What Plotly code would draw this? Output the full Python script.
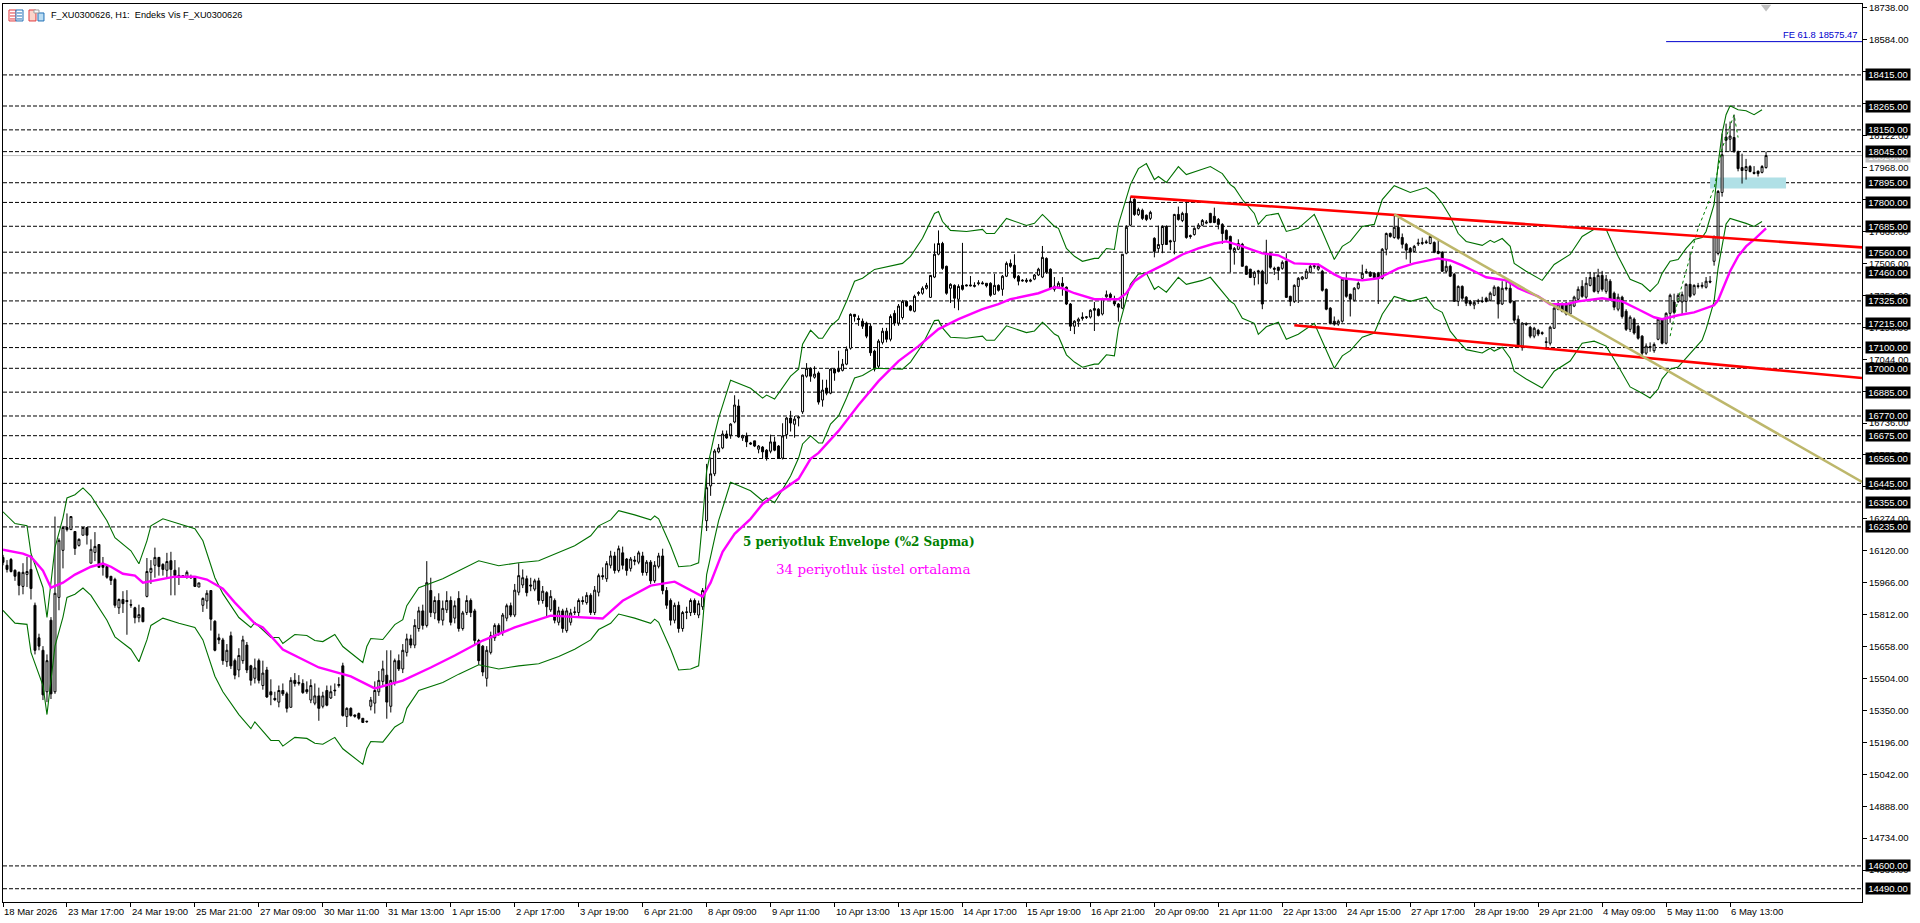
import plotly.graph_objects as go

# hourly candles, one line per 16 bars (one line per time label)
opens = [
    16088, 16050, 16078, 16026, 16016, 15948, 16006, 16030, 15857, 15700, 15640, 15440, 15785, 15440, 15895, 16122,
    16232, 16222, 16213, 16146, 16195, 16232, 16060, 16112, 16150, 16060, 16044, 15997, 15982, 15845, 15885, 15880,
    15860, 15845, 15797, 15845, 15900, 16016, 16050, 16088, 16054, 16026, 16072, 16026, 16001, 16000, 15992, 15995,
    15992, 15945, 15857, 15878, 15928, 15780, 15700, 15690, 15585, 15710, 15590, 15545, 15590, 15665, 15565, 15505,
    15590, 15470, 15545, 15440, 15408, 15390, 15446, 15430, 15365, 15495, 15480, 15480, 15450, 15400, 15385, 15420,
    15370, 15446, 15410, 15448, 15470, 15565, 15320, 15360, 15328, 15335, 15312, 15298, 15370, 15385, 15440, 15490,
    15520, 15370, 15485, 15590, 15550, 15630, 15695, 15665, 15745, 15830, 15760, 15928, 15820, 15880, 15785, 15835,
    15880, 15795, 15890, 15745, 15822, 15880, 15830, 15687, 15660, 15505, 15630, 15700, 15760, 15725, 15795, 15855,
    15810, 15920, 15955, 15985, 15955, 15935, 15975, 15880, 15918, 15835, 15880, 15775, 15830, 15735, 15775, 15822,
    15822, 15880, 15870, 15905, 15822, 15920, 16000, 15985, 16050, 16095, 16025, 16110, 16080, 16035, 16075, 16065,
    16095, 16015, 16065, 15975, 16045, 16095, 15928, 15880, 15785, 15857, 15745, 15822, 15822, 15880, 15810, 15850,
    16265, 16433, 16491, 16597, 16616, 16683, 16678, 16741, 16818, 16664, 16674, 16640, 16650, 16610, 16620, 16605,
    16600, 16645, 16625, 16567, 16680, 16760, 16730, 16760, 16790, 16962, 17000, 16957, 16977, 16847, 16905, 16880,
    16996, 16996, 16990, 17020, 17097, 17260, 17240, 17227, 17218, 17203, 17083, 17010, 17125, 17179, 17140, 17265,
    17218, 17245, 17323, 17300, 17275, 17360, 17362, 17386, 17342, 17440, 17550, 17602, 17492, 17386, 17400, 17333,
    17400, 17402, 17402, 17400, 17408, 17412, 17410, 17410, 17357, 17400, 17381, 17444, 17506, 17497, 17444, 17425,
    17425, 17420, 17430, 17450, 17440, 17530, 17478, 17381, 17391, 17410, 17391, 17310, 17203, 17227, 17240, 17245,
    17247, 17288, 17285, 17262, 17345, 17357, 17323, 17310, 17290, 17555, 17690, 17815, 17742, 17762, 17738, 17723,
    17627, 17578, 17597, 17684, 17615, 17612, 17742, 17713, 17747, 17640, 17645, 17675, 17690, 17700, 17747, 17733,
    17718, 17694, 17665, 17636, 17564, 17574, 17598, 17492, 17478, 17438, 17470, 17468, 17410, 17554, 17482, 17487,
    17482, 17516, 17347, 17323, 17395, 17430, 17434, 17463, 17490, 17478, 17468, 17381, 17290, 17227, 17213, 17227,
    17430, 17357, 17328, 17386, 17434, 17462, 17463, 17458, 17458, 17434, 17574, 17650, 17631, 17680, 17631, 17598,
    17578, 17564, 17600, 17602, 17610, 17602, 17607, 17564, 17559, 17468, 17492, 17453, 17323, 17395, 17343, 17323,
    17305, 17322, 17325, 17338, 17328, 17352, 17391, 17310, 17388, 17386, 17323, 17237, 17107, 17215, 17198, 17155,
    17183, 17172, 17128, 17121, 17193, 17285, 17310, 17314, 17262, 17300, 17333, 17395, 17343, 17400, 17438, 17371,
    17448, 17371, 17420, 17362, 17285, 17343, 17275, 17188, 17237, 17203, 17155, 17073, 17105, 17085, 17140, 17237,
    17121, 17265, 17320, 17323, 17320, 17323, 17405, 17357, 17398, 17395, 17391, 17420, 17516, 17554, 17848, 18115,
    18105, 18113, 18045, 17968, 17954, 17973, 17945, 17950, 17945, 17968,
]
highs = [
    16100, 16075, 16085, 16030, 16020, 16060, 16090, 16100, 15870, 15720, 15660, 15620, 15800, 16285, 16180, 16240,
    16300, 16285, 16213, 16180, 16232, 16232, 16175, 16210, 16150, 16090, 16050, 15997, 15990, 15890, 15925, 15930,
    15885, 15850, 15860, 15845, 16085, 16075, 16135, 16090, 16060, 16110, 16115, 16075, 16040, 16000, 16025, 16005,
    15997, 15965, 15895, 15930, 15928, 15785, 15720, 15700, 15670, 15730, 15600, 15650, 15710, 15680, 15570, 15600,
    15600, 15590, 15560, 15500, 15440, 15470, 15480, 15440, 15510, 15530, 15520, 15500, 15490, 15500, 15480, 15460,
    15440, 15470, 15470, 15480, 15510, 15580, 15365, 15365, 15330, 15340, 15312, 15300, 15415, 15490, 15540, 15590,
    15640, 15640, 15600, 15620, 15670, 15720, 15715, 15790, 15850, 15860, 16070, 15990, 15900, 15915, 15880, 15925,
    15900, 15880, 15925, 15830, 15905, 15890, 15840, 15695, 15665, 15660, 15730, 15770, 15770, 15820, 15865, 15870,
    15960, 16060, 16030, 16000, 15990, 15985, 15990, 15950, 15925, 15930, 15890, 15850, 15840, 15845, 15840, 15850,
    15890, 15900, 15920, 15915, 15950, 16010, 16040, 16070, 16120, 16115, 16145, 16140, 16085, 16090, 16095, 16120,
    16115, 16075, 16075, 16070, 16110, 16130, 15945, 15890, 15870, 15875, 15830, 15850, 15890, 15890, 15880, 15940,
    16539, 16570, 16610, 16635, 16700, 16700, 16735, 16870, 16850, 16680, 16690, 16645, 16650, 16630, 16625, 16610,
    16680, 16670, 16630, 16735, 16765, 16795, 16770, 16770, 16970, 17025, 17005, 17010, 16985, 16945, 16945, 17000,
    17000, 17085, 17045, 17105, 17265, 17262, 17255, 17240, 17225, 17215, 17090, 17140, 17195, 17195, 17260, 17280,
    17310, 17330, 17325, 17305, 17355, 17372, 17395, 17412, 17450, 17602, 17665, 17610, 17495, 17410, 17405, 17405,
    17605, 17405, 17445, 17415, 17425, 17420, 17410, 17415, 17455, 17405, 17450, 17515, 17525, 17550, 17450, 17430,
    17435, 17432, 17455, 17485, 17590, 17535, 17482, 17440, 17420, 17440, 17395, 17315, 17232, 17245, 17270, 17252,
    17285, 17320, 17290, 17340, 17375, 17365, 17350, 17315, 17550, 17690, 17828, 17820, 17775, 17770, 17742, 17760,
    17632, 17688, 17690, 17690, 17620, 17745, 17780, 17755, 17805, 17645, 17680, 17700, 17720, 17715, 17750, 17775,
    17725, 17700, 17670, 17640, 17585, 17622, 17605, 17495, 17480, 17470, 17475, 17475, 17620, 17558, 17490, 17490,
    17520, 17555, 17350, 17405, 17440, 17445, 17480, 17500, 17505, 17505, 17475, 17385, 17295, 17250, 17235, 17440,
    17465, 17360, 17392, 17418, 17500, 17480, 17468, 17462, 17465, 17580, 17655, 17655, 17742, 17725, 17650, 17605,
    17585, 17595, 17625, 17630, 17620, 17645, 17612, 17622, 17565, 17525, 17500, 17460, 17400, 17400, 17348, 17330,
    17325, 17335, 17345, 17345, 17370, 17400, 17395, 17420, 17425, 17420, 17325, 17255, 17222, 17222, 17205, 17200,
    17190, 17178, 17150, 17205, 17295, 17320, 17318, 17320, 17315, 17350, 17395, 17425, 17440, 17465, 17460, 17480,
    17470, 17450, 17430, 17370, 17360, 17350, 17285, 17255, 17245, 17210, 17160, 17120, 17125, 17125, 17240, 17240,
    17270, 17360, 17360, 17362, 17370, 17410, 17555, 17405, 17412, 17415, 17440, 17445, 17640, 17860, 18132, 18180,
    18190, 18223, 18050, 18035, 18010, 17980, 17975, 17955, 17980, 18045,
]
lows = [
    16050, 16015, 16015, 15975, 15905, 15910, 15945, 15885, 15620, 15640, 15400, 15390, 15405, 15430, 15833, 16035,
    16213, 16222, 16100, 16140, 16195, 16150, 16060, 16070, 16040, 16000, 15985, 15955, 15845, 15815, 15820, 15715,
    15845, 15770, 15775, 15775, 15895, 15960, 15990, 16000, 16000, 15985, 15905, 15905, 15955, 15990, 15985, 15985,
    15945, 15945, 15825, 15840, 15735, 15635, 15670, 15570, 15560, 15550, 15500, 15510, 15575, 15530, 15470, 15480,
    15480, 15450, 15410, 15375, 15395, 15365, 15420, 15340, 15365, 15465, 15470, 15430, 15430, 15385, 15375, 15300,
    15360, 15370, 15405, 15420, 15460, 15320, 15270, 15320, 15315, 15305, 15290, 15290, 15350, 15335, 15420, 15470,
    15310, 15340, 15470, 15540, 15530, 15610, 15650, 15650, 15730, 15740, 15750, 15800, 15790, 15770, 15760, 15820,
    15760, 15770, 15730, 15735, 15810, 15800, 15670, 15570, 15515, 15465, 15620, 15685, 15710, 15710, 15780, 15800,
    15800, 15905, 15940, 15900, 15925, 15925, 15860, 15865, 15800, 15825, 15770, 15760, 15725, 15725, 15760, 15810,
    15800, 15860, 15860, 15810, 15810, 15900, 15980, 15970, 16035, 16010, 16015, 16030, 16000, 16020, 16050, 16055,
    16000, 16000, 15960, 15965, 16035, 15910, 15840, 15760, 15770, 15725, 15730, 15790, 15805, 15810, 15795, 15835,
    16215, 16385, 16480, 16590, 16610, 16660, 16660, 16735, 16665, 16650, 16620, 16630, 16620, 16590, 16565, 16555,
    16590, 16600, 16565, 16560, 16660, 16695, 16665, 16720, 16780, 16955, 16935, 16950, 16825, 16815, 16870, 16875,
    16940, 16980, 16985, 17015, 17090, 17225, 17205, 17190, 17145, 17060, 16985, 17000, 17115, 17125, 17130, 17205,
    17205, 17235, 17295, 17275, 17270, 17350, 17355, 17380, 17340, 17435, 17545, 17475, 17355, 17315, 17290, 17280,
    17375, 17395, 17395, 17390, 17400, 17405, 17390, 17345, 17355, 17370, 17350, 17440, 17485, 17430, 17400, 17418,
    17412, 17415, 17425, 17445, 17435, 17455, 17380, 17370, 17385, 17350, 17305, 17180, 17165, 17200, 17230, 17238,
    17240, 17180, 17250, 17255, 17340, 17335, 17300, 17225, 17285, 17550, 17685, 17735, 17735, 17715, 17710, 17715,
    17535, 17560, 17555, 17595, 17570, 17550, 17712, 17705, 17625, 17625, 17640, 17670, 17685, 17695, 17700, 17700,
    17670, 17600, 17615, 17463, 17500, 17570, 17490, 17450, 17435, 17400, 17405, 17285, 17405, 17480, 17450, 17425,
    17475, 17340, 17300, 17315, 17315, 17425, 17430, 17458, 17480, 17470, 17370, 17280, 17212, 17205, 17205, 17220,
    17340, 17250, 17322, 17380, 17430, 17455, 17440, 17435, 17310, 17428, 17545, 17630, 17625, 17620, 17578, 17525,
    17506, 17560, 17590, 17595, 17600, 17598, 17555, 17550, 17465, 17460, 17440, 17320, 17300, 17330, 17300, 17300,
    17285, 17310, 17315, 17318, 17322, 17348, 17240, 17305, 17375, 17312, 17215, 17100, 17085, 17205, 17145, 17145,
    17155, 17160, 17090, 17110, 17190, 17280, 17270, 17255, 17255, 17295, 17328, 17340, 17335, 17395, 17365, 17360,
    17370, 17360, 17325, 17280, 17275, 17240, 17180, 17175, 17162, 17138, 17060, 17065, 17080, 17075, 17135, 17115,
    17115, 17220, 17260, 17315, 17260, 17270, 17340, 17350, 17385, 17385, 17385, 17410, 17495, 17545, 17828, 18045,
    18045, 18040, 17950, 17891, 17910, 17945, 17935, 17925, 17940, 17963,
]
closes = [
    16064, 16030, 16020, 15997, 15953, 16016, 16020, 15938, 15640, 15660, 15425, 15590, 15430, 15915, 16170, 16232,
    16222, 16285, 16131, 16175, 16232, 16195, 16127, 16141, 16040, 16040, 15992, 15977, 15857, 15885, 15865, 15875,
    15858, 15797, 15812, 15778, 16020, 16035, 16088, 16044, 16030, 16068, 16030, 16001, 15997, 15998, 16016, 15990,
    15948, 15965, 15890, 15915, 15790, 15640, 15690, 15590, 15640, 15565, 15520, 15615, 15690, 15545, 15495, 15555,
    15495, 15530, 15415, 15425, 15402, 15446, 15430, 15360, 15495, 15480, 15485, 15436, 15440, 15470, 15420, 15360,
    15420, 15375, 15440, 15445, 15475, 15325, 15360, 15325, 15322, 15312, 15292, 15296, 15400, 15446, 15495, 15550,
    15390, 15495, 15590, 15550, 15640, 15695, 15665, 15760, 15830, 15760, 15966, 15822, 15880, 15785, 15842, 15880,
    15775, 15855, 15745, 15820, 15880, 15822, 15687, 15590, 15535, 15640, 15710, 15760, 15725, 15810, 15855, 15810,
    15930, 16000, 15990, 15918, 15950, 15975, 15880, 15925, 15850, 15900, 15785, 15830, 15745, 15830, 15820, 15825,
    15880, 15875, 15905, 15822, 15930, 16000, 15995, 16058, 16095, 16025, 16130, 16050, 16025, 16080, 16070, 16110,
    16015, 16065, 15975, 16050, 16095, 15928, 15857, 15785, 15857, 15745, 15822, 15825, 15880, 15822, 15865, 15928,
    16424, 16491, 16601, 16616, 16683, 16664, 16731, 16823, 16669, 16674, 16645, 16635, 16625, 16625, 16597, 16570,
    16645, 16605, 16567, 16674, 16760, 16736, 16755, 16765, 16967, 17000, 16962, 16972, 16837, 16895, 16880, 16996,
    16977, 16985, 17020, 17092, 17260, 17250, 17235, 17203, 17155, 17075, 16996, 17131, 17179, 17140, 17250, 17218,
    17300, 17323, 17300, 17280, 17347, 17365, 17386, 17400, 17448, 17550, 17602, 17482, 17362, 17405, 17338, 17395,
    17381, 17398, 17398, 17396, 17412, 17408, 17398, 17352, 17400, 17376, 17444, 17506, 17492, 17438, 17420, 17422,
    17420, 17425, 17450, 17478, 17535, 17463, 17386, 17396, 17410, 17396, 17310, 17203, 17227, 17237, 17247, 17248,
    17280, 17280, 17255, 17335, 17355, 17342, 17310, 17295, 17550, 17680, 17805, 17742, 17766, 17723, 17718, 17752,
    17564, 17597, 17684, 17597, 17610, 17742, 17718, 17747, 17631, 17636, 17675, 17690, 17713, 17705, 17703, 17703,
    17694, 17650, 17622, 17574, 17578, 17602, 17492, 17453, 17438, 17463, 17466, 17310, 17554, 17487, 17478, 17472,
    17511, 17342, 17323, 17400, 17434, 17440, 17468, 17492, 17494, 17492, 17376, 17285, 17218, 17213, 17227, 17430,
    17347, 17333, 17386, 17410, 17458, 17466, 17444, 17438, 17434, 17574, 17650, 17636, 17680, 17627, 17598, 17570,
    17560, 17588, 17604, 17606, 17606, 17636, 17559, 17554, 17468, 17492, 17444, 17323, 17395, 17338, 17314, 17310,
    17318, 17325, 17322, 17323, 17362, 17391, 17310, 17386, 17384, 17318, 17232, 17107, 17218, 17212, 17155, 17193,
    17165, 17168, 17125, 17198, 17290, 17310, 17275, 17262, 17310, 17343, 17381, 17347, 17410, 17438, 17371, 17448,
    17381, 17430, 17333, 17295, 17343, 17250, 17188, 17246, 17170, 17145, 17073, 17107, 17100, 17115, 17237, 17121,
    17265, 17352, 17270, 17352, 17355, 17405, 17347, 17400, 17395, 17400, 17420, 17416, 17636, 17853, 18030, 18100,
    18120, 18045, 17963, 17954, 17973, 17949, 17940, 17939, 17973, 18026,
]
bars = list(range(len(closes)))

ema_bars = [0, 3, 5, 7, 10, 12, 15, 18, 20, 22, 25, 27, 30, 33, 35, 38, 40, 43, 48, 51,
            55, 58, 63, 65, 68, 70, 79, 87, 93, 100, 107, 113, 120, 128, 137, 150, 155, 162, 168, 175,
            177, 180, 183, 187, 190, 194, 199, 202, 204, 209, 214, 219, 224, 229, 234, 239, 245, 249, 252, 259,
            263, 265, 268, 273, 279, 281, 283, 286, 291, 295, 299, 303, 306, 310, 315, 319, 323, 329, 333, 335,
            340, 344, 349, 353, 359, 362, 365, 368, 371, 376, 379, 384, 387, 391, 394, 400, 405, 409, 413, 415,
            419, 423, 428, 429, 432, 434, 436, 438, 441]
ema_34 = [16125, 16115, 16106, 16091, 16024, 15942, 15966, 16005, 16024, 16043, 16058, 16043, 16009, 16000, 15966, 15976, 15985, 15995, 15995, 15981,
          15937, 15870, 15769, 15750, 15687, 15644, 15557, 15514, 15456, 15494, 15557, 15615, 15687, 15750, 15807, 15793, 15879, 15952, 15971, 15899,
          15966, 16115, 16202, 16274, 16346, 16399, 16467, 16563, 16592, 16698, 16823, 16938, 17035, 17107, 17189, 17237, 17285, 17309, 17333, 17362,
          17391, 17386, 17362, 17333, 17333, 17362, 17420, 17458, 17506, 17549, 17578, 17602, 17612, 17588, 17554, 17545, 17506, 17501, 17453, 17434,
          17424, 17434, 17482, 17506, 17530, 17520, 17496, 17468, 17439, 17424, 17386, 17347, 17309, 17309, 17323, 17338, 17323, 17285, 17246, 17237,
          17256, 17270, 17304, 17328, 17468, 17540, 17588, 17621, 17675]

env_bars = [0, 3, 6, 7, 10, 11, 13, 15, 16, 18,
            20, 22, 26, 28, 32, 34, 36, 37, 40, 44,
            48, 50, 53, 55, 59, 62, 63, 67, 69, 70,
            73, 76, 78, 80, 83, 85, 90, 91, 92, 95,
            98, 100, 101, 104, 110, 114, 119, 124, 129, 134,
            139, 143, 147, 149, 152, 154, 158, 162, 163, 164,
            167, 169, 172, 174, 175, 176, 178, 179, 182, 187,
            190, 191, 193, 195, 197, 199, 200, 202, 204, 205,
            207, 209, 211, 213, 215, 218, 225, 227, 230, 233,
            234, 235, 237, 241, 245, 246, 248, 251, 256, 258,
            260, 261, 263, 264, 266, 268, 270, 273, 274, 276,
            278, 279, 282, 284, 286, 288, 289, 291, 294, 296,
            300, 302, 305, 307, 308, 310, 313, 314, 316, 319,
            321, 324, 328, 330, 333, 335, 337, 340, 343, 345,
            348, 352, 356, 358, 360, 362, 364, 366, 370, 372,
            373, 375, 377, 378, 381, 385, 388, 392, 395, 398,
            401, 404, 407, 410, 412, 414, 415, 417, 419, 421,
            423, 425, 426, 428, 429, 430, 431, 432, 434, 436,
            438, 440]
env_upper = [16308, 16251, 16241, 16107, 15943, 15798, 16135, 16279, 16375, 16390,
             16423, 16385, 16265, 16183, 16120, 16057, 16168, 16240, 16274, 16250,
             16226, 16168, 15990, 15913, 15798, 15750, 15774, 15702, 15702, 15673,
             15716, 15711, 15687, 15682, 15716, 15658, 15581, 15658, 15697, 15692,
             15764, 15788, 15855, 15942, 15985, 16024, 16072, 16048, 16062, 16072,
             16110, 16144, 16192, 16240, 16269, 16313, 16293, 16269, 16288, 16274,
             16144, 16043, 16048, 16062, 16269, 16505, 16683, 16760, 16943, 16904,
             16856, 16871, 16852, 16904, 16962, 16996, 17116, 17184, 17145, 17145,
             17203, 17237, 17323, 17420, 17434, 17477, 17506, 17540, 17627, 17747,
             17756, 17708, 17665, 17660, 17670, 17650, 17650, 17723, 17689, 17699,
             17742, 17723, 17684, 17675, 17578, 17540, 17516, 17530, 17530, 17578,
             17573, 17694, 17886, 17963, 17987, 17910, 17925, 17896, 17973, 17934,
             17958, 17973, 17939, 17886, 17872, 17814, 17747, 17694, 17737, 17747,
             17660, 17675, 17742, 17660, 17525, 17588, 17612, 17684, 17694, 17814,
             17881, 17848, 17872, 17843, 17795, 17732, 17650, 17612, 17593, 17617,
             17607, 17626, 17588, 17506, 17468, 17424, 17501, 17549, 17636, 17670,
             17670, 17540, 17429, 17405, 17371, 17410, 17458, 17516, 17525, 17578,
             17621, 17631, 17660, 17790, 17983, 18132, 18223, 18266, 18247, 18242,
             18223, 18247]
env_lower = [15832, 15771, 15765, 15630, 15470, 15330, 15660, 15800, 15895, 15910,
             15940, 15905, 15785, 15705, 15645, 15585, 15690, 15760, 15795, 15770,
             15750, 15690, 15515, 15440, 15330, 15262, 15295, 15205, 15205, 15178,
             15220, 15215, 15192, 15187, 15220, 15165, 15090, 15165, 15200, 15197,
             15270, 15293, 15360, 15446, 15485, 15525, 15570, 15550, 15565, 15575,
             15610, 15645, 15690, 15740, 15770, 15815, 15795, 15770, 15790, 15775,
             15645, 15545, 15550, 15565, 15770, 16005, 16180, 16265, 16450, 16409,
             16361, 16375, 16352, 16419, 16481, 16567, 16635, 16674, 16640, 16640,
             16731, 16770, 16857, 16953, 16965, 17000, 16996, 17030, 17115, 17230,
             17232, 17195, 17150, 17145, 17155, 17135, 17135, 17205, 17172, 17180,
             17222, 17205, 17165, 17155, 17065, 17030, 17005, 17020, 17020, 17065,
             17060, 17193, 17405, 17455, 17458, 17381, 17395, 17367, 17439, 17405,
             17424, 17439, 17371, 17323, 17310, 17241, 17217, 17164, 17200, 17222,
             17140, 17164, 17217, 17131, 17000, 17060, 17085, 17150, 17170, 17261,
             17347, 17323, 17343, 17290, 17270, 17179, 17131, 17090, 17074, 17097,
             17083, 17102, 17049, 16986, 16948, 16905, 16986, 17035, 17121, 17131,
             17107, 17011, 16910, 16880, 16857, 16900, 16949, 16996, 17006, 17049,
             17093, 17136, 17189, 17323, 17482, 17600, 17696, 17723, 17712, 17699,
             17684, 17708]

dash_green_bars = [417, 419, 424, 428, 430, 433, 434]
dash_green_vals = [17155, 17333, 17675, 17867, 18060, 18223, 18113]

red_top_bars = [282, 465]
red_top_vals = [17828, 17583]
red_low_bars = [323, 465]
red_low_vals = [17208, 16953]
tan_bars = [348, 465]
tan_vals = [17742, 16452]
fe_bars = [416, 465]
fe_vals = [18575.47, 18575.47]
zone_bars = [427, 446]
zone_vals = [17867, 17920]
last_price = 18026

levels = [18415, 18265, 18150, 18045, 17895, 17800, 17685, 17560, 17460, 17325, 17215,
          17100, 17000, 16885, 16770, 16675, 16565, 16445, 16355, 16235, 14600, 14490]
price_ticks = [18738, 18584, 18430, 18276, 18122, 17968, 17814, 17660, 17506, 17352, 17198, 17044,
               16890, 16736, 16582, 16428, 16274, 16120, 15966, 15812, 15658, 15504, 15350, 15196,
               15042, 14888, 14734, 14580]
time_labels = ['18 Mar 2026', '23 Mar 17:00', '24 Mar 19:00', '25 Mar 21:00', '27 Mar 09:00', '30 Mar 11:00',
               '31 Mar 13:00', '1 Apr 15:00', '2 Apr 17:00', '3 Apr 19:00', '6 Apr 21:00', '8 Apr 09:00',
               '9 Apr 11:00', '10 Apr 13:00', '13 Apr 15:00', '14 Apr 17:00', '15 Apr 19:00', '16 Apr 21:00',
               '20 Apr 09:00', '21 Apr 11:00', '22 Apr 13:00', '24 Apr 15:00', '27 Apr 17:00', '28 Apr 19:00',
               '29 Apr 21:00', '4 May 09:00', '5 May 11:00', '6 May 13:00']
time_bars = list(range(0, 16 * len(time_labels), 16))

assert len(opens) == len(highs) == len(lows) == len(closes) == 442
assert len(env_bars) == len(env_upper) == len(env_lower)
assert len(ema_bars) == len(ema_34)

W, H = 1920, 923
L, R, T, B = 2, 1862, 2, 902
AXIS_FONT = 'Liberation Sans'


def px(x):
    return (x - L) / (R - L)


def py(y):
    return (B - y) / (B - T)


fig = go.Figure()

fig.add_trace(go.Candlestick(
    x=bars, open=opens, high=highs, low=lows, close=closes, whiskerwidth=0,
    increasing=dict(line=dict(color='black', width=1), fillcolor='white'),
    decreasing=dict(line=dict(color='black', width=1), fillcolor='black'),
))
fig.add_trace(go.Scatter(x=env_bars, y=env_upper, mode='lines', line=dict(color='#007000', width=1.1)))
fig.add_trace(go.Scatter(x=env_bars, y=env_lower, mode='lines', line=dict(color='#007000', width=1.1)))
fig.add_trace(go.Scatter(x=dash_green_bars, y=dash_green_vals, mode='lines',
                         line=dict(color='#008000', width=1, dash='3px,3px')))
fig.add_trace(go.Scatter(x=ema_bars, y=ema_34, mode='lines', line=dict(color='#FF00FF', width=2.4)))
fig.add_trace(go.Scatter(x=red_top_bars, y=red_top_vals, mode='lines', line=dict(color='#FF0000', width=2.6)))
fig.add_trace(go.Scatter(x=red_low_bars, y=red_low_vals, mode='lines', line=dict(color='#FF0000', width=2.6)))
fig.add_trace(go.Scatter(x=tan_bars, y=tan_vals, mode='lines', line=dict(color='#BDB76B', width=2.5)))
fig.add_trace(go.Scatter(x=fe_bars, y=fe_vals, mode='lines', line=dict(color='#0000CD', width=1)))
fig.add_trace(go.Scatter(x=[bars[-1]], y=[18743], mode='markers', cliponaxis=False,
                         marker=dict(symbol='triangle-down', size=9, color='#C0C0C0')))

shapes = []
for lv in levels:
    shapes.append(dict(type='line', xref='paper', x0=0, x1=1, yref='y', y0=lv, y1=lv, layer='below',
                       line=dict(color='black', width=1, dash='4px,2px')))
shapes.append(dict(type='line', xref='paper', x0=0, x1=1, yref='y', y0=last_price, y1=last_price, layer='below',
                   line=dict(color='#C0C0C0', width=1)))
shapes.append(dict(type='rect', xref='x', yref='y', x0=zone_bars[0], x1=zone_bars[1], y0=zone_vals[0], y1=zone_vals[1],
                   layer='below', fillcolor='#B0E0E6', line=dict(width=0)))


# the two small toolbar icons left of the chart title
def icon_rect(x0, y0, x1, y1, line, fill='white'):
    shapes.append(dict(type='rect', xref='paper', yref='paper', x0=px(x0), x1=px(x1), y0=py(y0), y1=py(y1),
                       fillcolor=fill, line=dict(color=line, width=1)))


icon_rect(8, 8, 15, 19, '#E0393E')
icon_rect(15, 8, 22, 19, '#1F6FB5')
for row in (11, 14, 17):
    shapes.append(dict(type='line', xref='paper', yref='paper', x0=px(9), x1=px(14), y0=py(row), y1=py(row),
                       line=dict(color='#E0393E', width=1)))
    shapes.append(dict(type='line', xref='paper', yref='paper', x0=px(16), x1=px(21), y0=py(row), y1=py(row),
                       line=dict(color='#1F6FB5', width=1)))
icon_rect(28, 8, 35, 19, '#E0393E', '#FBD5CB')
icon_rect(37, 11, 43, 19, '#1F6FB5', '#BBDDF3')
icon_rect(33, 8, 38, 11, '#A0A0A0')

notes = [
    dict(xref='paper', yref='paper', x=px(48), y=py(13), xanchor='left', yanchor='middle', showarrow=False,
         text='F_XU0300626, H1:  Endeks Vis F_XU0300626', font=dict(family=AXIS_FONT, size=9.2, color='black')),
    dict(xref='paper', x=1, xanchor='right', xshift=-2, yref='y', y=18575.47, yanchor='bottom', showarrow=False,
         text='FE 61.8 18575.47', font=dict(family=AXIS_FONT, size=9.4, color='#0000CD')),
    dict(xref='x', x=214, yref='y', y=16163, showarrow=False, text='<b>5 periyotluk Envelope (%2 Sapma)</b>',
         font=dict(family='DejaVu Serif', size=12, color='#008000')),
    dict(xref='x', x=217.5, yref='y', y=16033, showarrow=False, text='34 periyotluk üstel ortalama',
         font=dict(family='DejaVu Serif', size=13.5, color='#FF00FF')),
    dict(xref='paper', x=1, xanchor='left', xshift=3, yref='y', y=last_price - 4, yanchor='middle', showarrow=False,
         text=f'{last_price}.00', width=44, height=11, bgcolor='#C0C0C0', borderpad=0,
         font=dict(family=AXIS_FONT, size=9.5, color='white')),
]
for lv in levels:
    notes.append(dict(xref='paper', x=1, xanchor='left', xshift=3, yref='y', y=lv, yanchor='middle', showarrow=False,
                      text=f'{lv}.00', width=44, height=11, bgcolor='black', borderpad=0,
                      font=dict(family=AXIS_FONT, size=9.5, color='white')))
for b, lab in zip(time_bars, time_labels):
    notes.append(dict(xref='x', x=b, xanchor='left', yref='paper', y=0, yanchor='top', yshift=-3, showarrow=False,
                      text=lab, borderpad=0, font=dict(family=AXIS_FONT, size=9.5, color='black')))

fig.update_layout(
    width=W, height=H, margin=dict(l=L, r=W - R, t=T, b=H - B, pad=0),
    paper_bgcolor='white', plot_bgcolor='white', showlegend=False, hovermode=False,
    shapes=shapes, annotations=notes,
    xaxis=dict(range=[0, 465], rangeslider=dict(visible=False), showgrid=False, zeroline=False,
               tickvals=time_bars, ticktext=[''] * len(time_bars), ticks='outside', ticklen=4, tickcolor='black',
               showline=True, linecolor='black', linewidth=1, mirror=True),
    yaxis=dict(range=[14426, 18757], side='right', showgrid=False, zeroline=False,
               tickvals=price_ticks, ticktext=[f'{p}.00' for p in price_ticks], ticks='outside', ticklen=4,
               tickcolor='black', tickfont=dict(family=AXIS_FONT, size=9.5, color='black'),
               showline=True, linecolor='black', linewidth=1, mirror=True),
)

fig.write_html('out.html', config=dict(displayModeBar=False),
               post_script="document.body.style.margin='0';document.body.style.overflow='hidden';")
